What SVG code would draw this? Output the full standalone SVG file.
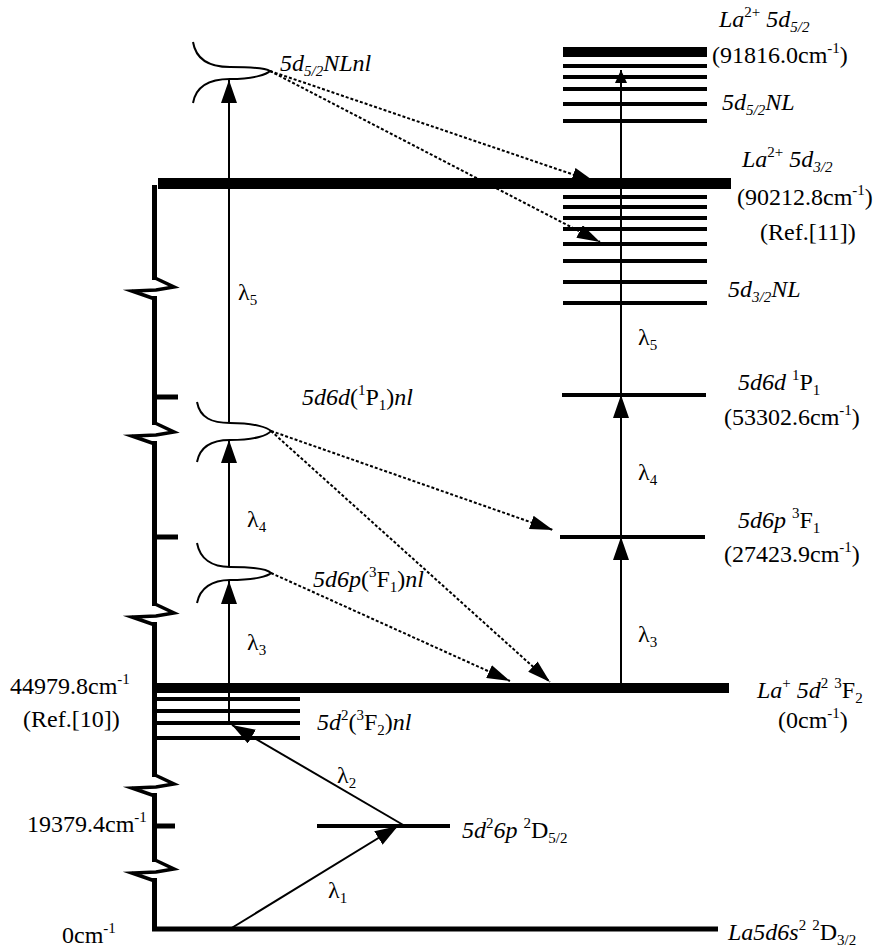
<svg xmlns="http://www.w3.org/2000/svg" width="876" height="947" viewBox="0 0 876 947">
<style>
.t{font-family:"Liberation Serif","Times New Roman",serif;font-size:24px;fill:#000}
.i{font-style:italic}
.s{font-size:15px}
.lv{stroke:#000;fill:none}
.dot{stroke:#000;stroke-width:2;stroke-dasharray:3 2;fill:none}
.ln{stroke:#000;stroke-width:2;fill:none}
.ax{stroke:#000;stroke-width:5;fill:none}
.zz{stroke:#000;stroke-width:3.5;fill:none;stroke-linejoin:miter;stroke-miterlimit:10}
</style>
<defs>
<marker id="a" markerUnits="userSpaceOnUse" markerWidth="24" markerHeight="16" refX="23" refY="8" orient="auto"><path d="M0,0 L23,8 L0,16 Z" fill="#000"/></marker>
<marker id="as" markerUnits="userSpaceOnUse" markerWidth="14" markerHeight="12" refX="13" refY="6" orient="auto"><path d="M0,0 L13,6 L0,12 Z" fill="#000"/></marker>
<marker id="ad" markerUnits="userSpaceOnUse" markerWidth="24" markerHeight="14" refX="23" refY="7" orient="auto"><path d="M0,0 L23,7 L0,14 Z" fill="#000"/></marker>
</defs>

<g id="axis">
<path class="ax" d="M154.5,185 V280 M154.5,296 V425 M154.5,441 V606 M154.5,622 V777 M154.5,793 V862 M154.5,878 V931"/>
<polyline class="zz" points="155,278 174,287 156,290 132,291 155,299"/>
<polyline class="zz" points="155,423 174,432 156,435 132,436 155,444"/>
<polyline class="zz" points="155,604 174,613 156,616 132,617 155,625"/>
<polyline class="zz" points="155,775 174,784 156,787 132,788 155,796"/>
<polyline class="zz" points="155,860 174,869 156,872 132,873 155,881"/>
<path class="ax" d="M154,397 H178 M154,537 H178 M154,826 H175" stroke-width="4"/>
</g>

<g id="level-La2-5d32">
<path class="lv" stroke-width="11" d="M158,183.5 H731"/>
<path class="lv" stroke-width="4" d="M563,197 H707 M563,207 H707 M563,218 H707 M563,229 H707 M563,244 H707 M563,261 H707 M563,282 H707 M563,303 H707"/>
</g>
<g id="level-La2-5d52">
<path class="lv" stroke-width="10" d="M563,52 H707"/>
<path class="lv" stroke-width="4" d="M563,66 H707 M563,77 H707 M563,89 H707 M563,104 H707 M563,121 H707"/>
</g>
<g id="level-5d6d1P1"><path class="lv" stroke-width="4" d="M562,395 H706"/></g>
<g id="level-5d6p3F1"><path class="lv" stroke-width="4" d="M560,537 H705"/></g>
<g id="level-LaPlus">
<path class="lv" stroke-width="10" d="M155,688 H729"/>
<path class="lv" stroke-width="4" d="M155,699 H300 M155,711 H300 M155,723 H300 M155,738 H300"/>
</g>
<g id="level-19379"><path class="lv" stroke-width="4" d="M317,826 H450"/></g>
<g id="level-ground"><path class="lv" stroke-width="5" d="M152,929 H718"/></g>

<g id="curve-5d52NLnl"><path class="ln" d="M193,42 C196,60 210,67 230,67 C255,67 267,69 270,71 C267,74 255,79 230,79 C210,79 196,86 193,103"/></g>
<g id="curve-5d6d"><path class="ln" d="M197,402 C200,418 212,423 230,423 C256,423 268,428 271,431 C268,435 256,440 230,440 C212,440 200,446 197,462"/></g>
<g id="curve-5d6p"><path class="ln" d="M197,543 C200,559 212,567 230,567 C256,567 268,570 271,573 C268,576 256,580 230,580 C212,580 200,588 197,603"/></g>

<g id="connectors">
<path class="ln" d="M621,688 V537" marker-end="url(#a)"/>
<path class="ln" d="M621,537 V395" marker-end="url(#a)"/>
<path class="ln" d="M621,395 V70" marker-end="url(#as)"/>
<path class="ln" d="M229,725 V581" marker-end="url(#a)"/>
<path class="ln" d="M229,567 V440" marker-end="url(#a)"/>
<path class="ln" d="M229,423 V80" marker-end="url(#a)"/>
<path class="ln" d="M230,929 L398,826" marker-end="url(#a)"/>
<path class="ln" d="M405,826 L232,725" marker-end="url(#a)"/>
<path class="dot" d="M270,71 L595,182" marker-end="url(#ad)"/>
<path class="dot" d="M270,71 L600,242" marker-end="url(#ad)"/>
<path class="dot" d="M271,431 L553,530" marker-end="url(#ad)"/>
<path class="dot" d="M271,431 L550,682" marker-end="url(#ad)"/>
<path class="dot" d="M271,573 L510,681" marker-end="url(#ad)"/>
</g>

<g id="labels">
<text class="t i" x="280" y="71">5d<tspan class="s" dy="5">5/2</tspan><tspan dy="-5">NLnl</tspan></text>
<text class="t" x="719" y="27"><tspan class="i">La</tspan><tspan class="s" dy="-10">2+</tspan><tspan class="i" dy="10"> 5d</tspan><tspan class="s i" dy="5">5/2</tspan></text>
<text class="t" x="712" y="63">(91816.0cm<tspan class="s" dy="-10">-1</tspan><tspan dy="10">)</tspan></text>
<text class="t i" x="722" y="110">5d<tspan class="s" dy="5">5/2</tspan><tspan dy="-5">NL</tspan></text>
<text class="t" x="742" y="167"><tspan class="i">La</tspan><tspan class="s" dy="-10">2+</tspan><tspan class="i" dy="10"> 5d</tspan><tspan class="s i" dy="5">3/2</tspan></text>
<text class="t" x="737" y="205">(90212.8cm<tspan class="s" dy="-10">-1</tspan><tspan dy="10">)</tspan></text>
<text class="t" x="760" y="240">(Ref.[11])</text>
<text class="t i" x="728" y="297">5d<tspan class="s" dy="5">3/2</tspan><tspan dy="-5">NL</tspan></text>
<text class="t" x="638" y="345">λ<tspan class="s" dy="5">5</tspan></text>
<text class="t" x="738" y="390"><tspan class="i">5d6d</tspan> <tspan class="s" dy="-10">1</tspan><tspan dy="10">P</tspan><tspan class="s" dy="5">1</tspan></text>
<text class="t" x="724" y="425">(53302.6cm<tspan class="s" dy="-10">-1</tspan><tspan dy="10">)</tspan></text>
<text class="t" x="638" y="480">λ<tspan class="s" dy="5">4</tspan></text>
<text class="t" x="738" y="528"><tspan class="i">5d6p</tspan> <tspan class="s" dy="-10">3</tspan><tspan dy="10">F</tspan><tspan class="s" dy="5">1</tspan></text>
<text class="t" x="724" y="562">(27423.9cm<tspan class="s" dy="-10">-1</tspan><tspan dy="10">)</tspan></text>
<text class="t" x="638" y="642">λ<tspan class="s" dy="5">3</tspan></text>
<text class="t" x="757" y="698"><tspan class="i">La</tspan><tspan class="s" dy="-10">+</tspan><tspan class="i" dy="10"> 5d</tspan><tspan class="s" dy="-10">2</tspan><tspan dy="10"> </tspan><tspan class="s" dy="-10">3</tspan><tspan dy="10">F</tspan><tspan class="s" dy="5">2</tspan></text>
<text class="t" x="778" y="728">(0cm<tspan class="s" dy="-10">-1</tspan><tspan dy="10">)</tspan></text>
<text class="t" x="317" y="730"><tspan class="i">5d</tspan><tspan class="s" dy="-10">2</tspan><tspan dy="10">(</tspan><tspan class="s" dy="-10">3</tspan><tspan dy="10">F</tspan><tspan class="s" dy="5">2</tspan><tspan dy="-5">)</tspan><tspan class="i">nl</tspan></text>
<text class="t" x="337" y="783">λ<tspan class="s" dy="5">2</tspan></text>
<text class="t" x="462" y="838"><tspan class="i">5d</tspan><tspan class="s" dy="-10">2</tspan><tspan class="i" dy="10">6p</tspan> <tspan class="s" dy="-10">2</tspan><tspan dy="10">D</tspan><tspan class="s" dy="5">5/2</tspan></text>
<text class="t" x="328" y="898">λ<tspan class="s" dy="5">1</tspan></text>
<text class="t" x="728" y="940"><tspan class="i">La5d6s</tspan><tspan class="s" dy="-10">2</tspan><tspan dy="10"> </tspan><tspan class="s" dy="-10">2</tspan><tspan dy="10">D</tspan><tspan class="s" dy="5">3/2</tspan></text>
<text class="t" x="62" y="943">0cm<tspan class="s" dy="-10">-1</tspan></text>
<text class="t" x="27" y="832">19379.4cm<tspan class="s" dy="-10">-1</tspan></text>
<text class="t" x="10" y="694">44979.8cm<tspan class="s" dy="-10">-1</tspan></text>
<text class="t" x="23" y="727">(Ref.[10])</text>
<text class="t" x="238" y="300">λ<tspan class="s" dy="5">5</tspan></text>
<text class="t" x="302" y="405"><tspan class="i">5d6d</tspan>(<tspan class="s" dy="-10">1</tspan><tspan dy="10">P</tspan><tspan class="s" dy="5">1</tspan><tspan dy="-5">)</tspan><tspan class="i">nl</tspan></text>
<text class="t" x="247" y="527">λ<tspan class="s" dy="5">4</tspan></text>
<text class="t" x="313" y="587"><tspan class="i">5d6p</tspan>(<tspan class="s" dy="-10">3</tspan><tspan dy="10">F</tspan><tspan class="s" dy="5">1</tspan><tspan dy="-5">)</tspan><tspan class="i">nl</tspan></text>
<text class="t" x="247" y="650">λ<tspan class="s" dy="5">3</tspan></text>
</g>
</svg>
